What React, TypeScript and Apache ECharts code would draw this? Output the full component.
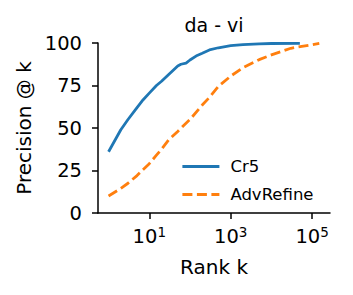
import React, { useEffect, useRef } from "react";
import * as echarts from "echarts";

const title = "da - vi";
const xName = "Rank k";
const yName = "Precision @ k";
const yTicks = [0, 25, 50, 75, 100];
const xTicks = [10, 1000, 100000];

const cr5Rank = [1, 2, 3, 5, 7, 10, 15, 20, 30, 50, 60, 80, 100, 150, 200, 300, 500, 1000, 2000, 5000, 10000, 50000];
const cr5Prec = [36, 49, 55, 62, 66.5, 70.5, 75, 77.5, 81.5, 86.5, 87.5, 88.2, 90, 92.7, 94, 95.9, 97.2, 98.4, 99.0, 99.5, 99.7, 99.8];

const advRank = [1, 2, 3, 5, 7, 10, 15, 20, 30, 50, 70, 100, 200, 300, 500, 1000, 2000, 5000, 10000, 30000, 100000, 150000];
const advPrec = [10, 14.5, 17.5, 22, 25.5, 29, 34, 37.5, 43, 48, 51.5, 55, 63.5, 68, 74.5, 80.5, 85.5, 90.2, 93, 96.9, 99, 99.8];

const FONT = "DejaVu Sans";

export default function App() {
  const ref = useRef<HTMLDivElement>(null);
  useEffect(() => {
    if (!ref.current) return;
    const chart = echarts.init(ref.current, undefined, { renderer: "svg" });
    chart.setOption({
      animation: false,
      backgroundColor: "#ffffff",
      textStyle: { fontFamily: FONT },
      title: {
        text: title,
        left: 209,
        top: 10,
        textAlign: "center",
        textStyle: { fontFamily: FONT, fontSize: 19, fontWeight: "normal", color: "#000" },
      },
      grid: { left: 98, right: 23, top: 43, bottom: 82 },
      legend: {
        orient: "vertical",
        left: 176,
        top: 153,
        itemWidth: 37,
        itemHeight: 14,
        itemGap: 11,
        itemStyle: { opacity: 0, borderWidth: 0 },
        lineStyle: { width: 2.8 },
        textStyle: { fontFamily: FONT, fontSize: 16.5, color: "#000", padding: [0, 0, 0, 6] },
        data: ["Cr5", "AdvRefine"],
      },
      xAxis: {
        type: "log",
        logBase: 10,
        min: 0.55,
        max: 275000,
        name: xName,
        nameLocation: "middle",
        nameGap: 44,
        nameTextStyle: { fontFamily: FONT, fontSize: 20, color: "#000" },
        axisLine: { lineStyle: { color: "#000", width: 1.5 } },
        axisTick: { customValues: xTicks, length: 6, lineStyle: { color: "#000", width: 1.5 } },
        minorTick: { show: false },
        splitLine: { show: false },
        axisLabel: {
          customValues: xTicks,
          margin: 12,
          color: "#000",
          formatter: (v: number) => `{b|10}{s|${Math.round(Math.log10(v))}}`,
          rich: {
            b: { fontFamily: FONT, fontSize: 19.5, color: "#000" },
            s: { fontFamily: FONT, fontSize: 13.5, color: "#000", padding: [0, 0, 9, 0] },
          },
        },
      },
      yAxis: {
        type: "value",
        min: 0,
        max: 100,
        interval: 25,
        name: yName,
        nameLocation: "middle",
        nameRotate: 90,
        nameGap: 63,
        nameTextStyle: { fontFamily: FONT, fontSize: 20, color: "#000" },
        axisLine: { show: true, lineStyle: { color: "#000", width: 1.5 } },
        axisTick: { show: true, length: 6, lineStyle: { color: "#000", width: 1.5 } },
        splitLine: { show: false },
        axisLabel: {
          margin: 16,
          fontFamily: FONT,
          fontSize: 19.5,
          color: "#000",
          customValues: yTicks,
        },
      },
      series: [
        {
          name: "Cr5",
          type: "line",
          showSymbol: false,
          symbol: "none",
          color: "#1f77b4",
          lineStyle: { color: "#1f77b4", width: 2.8 },
          data: cr5Rank.map((k, i) => [k, cr5Prec[i]]),
        },
        {
          name: "AdvRefine",
          type: "line",
          showSymbol: false,
          symbol: "none",
          color: "#ff7f0e",
          lineStyle: { color: "#ff7f0e", width: 2.8, type: [10, 4.5] },
          data: advRank.map((k, i) => [k, advPrec[i]]),
        },
      ],
    });
    return () => chart.dispose();
  }, []);
  return <div ref={ref} style={{ width: 353, height: 295, position: "absolute", left: 0, top: 0 }} />;
}
